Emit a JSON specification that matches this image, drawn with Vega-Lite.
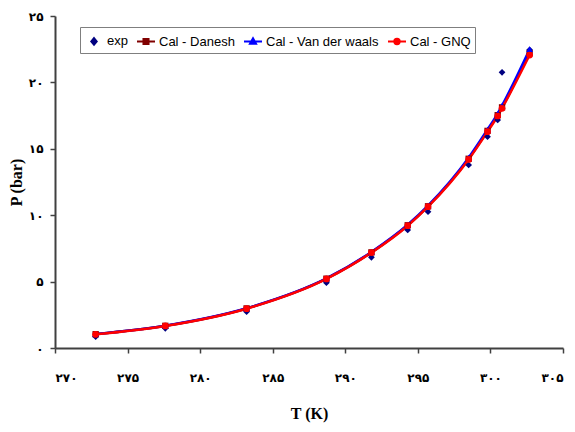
{
  "$schema": "https://vega.github.io/schema/vega-lite/v6.json",
  "width": 508,
  "height": 332,
  "autosize": {"type": "none"},
  "padding": {"left": 55, "top": 16, "right": 12, "bottom": 84},
  "background": "white",
  "config": {
    "view": {"stroke": null},
    "axis": {
      "domainColor": "#404040",
      "domainWidth": 2,
      "tickColor": "#404040",
      "tickWidth": 1.5,
      "tickSize": 5,
      "grid": false,
      "labelFont": "DejaVu Sans",
      "labelFontWeight": "bold",
      "labelFontSize": 12,
      "labelColor": "black",
      "titleFont": "Liberation Serif",
      "titleFontSize": 16,
      "titleFontWeight": "bold",
      "titleColor": "black"
    }
  },
  "data": {
    "values": [
      {"T": 272.8, "P": 0.85, "s": "exp"},
      {"T": 277.6, "P": 1.48, "s": "exp"},
      {"T": 283.2, "P": 2.73, "s": "exp"},
      {"T": 288.7, "P": 4.92, "s": "exp"},
      {"T": 291.8, "P": 6.83, "s": "exp"},
      {"T": 294.3, "P": 8.89, "s": "exp"},
      {"T": 295.7, "P": 10.26, "s": "exp"},
      {"T": 298.5, "P": 13.78, "s": "exp"},
      {"T": 299.8, "P": 15.91, "s": "exp"},
      {"T": 300.5, "P": 17.17, "s": "exp"},
      {"T": 300.8, "P": 20.76, "s": "exp"},
      {"T": 302.7, "P": 22.45, "s": "exp"},
      {"T": 272.8, "P": 1.04, "s": "Cal - Danesh"},
      {"T": 277.6, "P": 1.67, "s": "Cal - Danesh"},
      {"T": 283.2, "P": 2.98, "s": "Cal - Danesh"},
      {"T": 288.7, "P": 5.22, "s": "Cal - Danesh"},
      {"T": 291.8, "P": 7.2, "s": "Cal - Danesh"},
      {"T": 294.3, "P": 9.24, "s": "Cal - Danesh"},
      {"T": 295.7, "P": 10.67, "s": "Cal - Danesh"},
      {"T": 298.5, "P": 14.25, "s": "Cal - Danesh"},
      {"T": 299.8, "P": 16.35, "s": "Cal - Danesh"},
      {"T": 300.5, "P": 17.53, "s": "Cal - Danesh"},
      {"T": 300.8, "P": 18.12, "s": "Cal - Danesh"},
      {"T": 302.7, "P": 22.2, "s": "Cal - Danesh"},
      {"T": 272.8, "P": 1.05, "s": "Cal - Van der waals"},
      {"T": 277.6, "P": 1.68, "s": "Cal - Van der waals"},
      {"T": 283.2, "P": 2.99, "s": "Cal - Van der waals"},
      {"T": 288.7, "P": 5.24, "s": "Cal - Van der waals"},
      {"T": 291.8, "P": 7.23, "s": "Cal - Van der waals"},
      {"T": 294.3, "P": 9.28, "s": "Cal - Van der waals"},
      {"T": 295.7, "P": 10.72, "s": "Cal - Van der waals"},
      {"T": 298.5, "P": 14.33, "s": "Cal - Van der waals"},
      {"T": 299.8, "P": 16.45, "s": "Cal - Van der waals"},
      {"T": 300.5, "P": 17.65, "s": "Cal - Van der waals"},
      {"T": 300.8, "P": 18.25, "s": "Cal - Van der waals"},
      {"T": 302.7, "P": 22.5, "s": "Cal - Van der waals"},
      {"T": 272.8, "P": 1.03, "s": "Cal - GNQ"},
      {"T": 277.6, "P": 1.66, "s": "Cal - GNQ"},
      {"T": 283.2, "P": 2.96, "s": "Cal - GNQ"},
      {"T": 288.7, "P": 5.2, "s": "Cal - GNQ"},
      {"T": 291.8, "P": 7.18, "s": "Cal - GNQ"},
      {"T": 294.3, "P": 9.21, "s": "Cal - GNQ"},
      {"T": 295.7, "P": 10.64, "s": "Cal - GNQ"},
      {"T": 298.5, "P": 14.2, "s": "Cal - GNQ"},
      {"T": 299.8, "P": 16.29, "s": "Cal - GNQ"},
      {"T": 300.5, "P": 17.47, "s": "Cal - GNQ"},
      {"T": 300.8, "P": 18.05, "s": "Cal - GNQ"},
      {"T": 302.7, "P": 22.06, "s": "Cal - GNQ"}
    ]
  },
  "encoding": {
    "x": {
      "field": "T",
      "type": "quantitative",
      "scale": {"domain": [270, 305], "nice": false, "zero": false},
      "axis": {
        "values": [270, 275, 280, 285, 290, 295, 300, 305],
        "title": "T (K)",
        "labelPadding": 19,
        "titlePadding": 22,
        "labelExpr": "replace(replace(replace(replace(replace(replace(replace(replace(replace(replace(datum.label,regexp('0','g'),'۰'),regexp('1','g'),'۱'),regexp('2','g'),'۲'),regexp('3','g'),'۳'),regexp('4','g'),'۴'),regexp('5','g'),'۵'),regexp('6','g'),'۶'),regexp('7','g'),'۷'),regexp('8','g'),'۸'),regexp('9','g'),'۹')"
      }
    },
    "y": {
      "field": "P",
      "type": "quantitative",
      "scale": {"domain": [0, 25], "nice": false},
      "axis": {
        "values": [0, 5, 10, 15, 20, 25],
        "title": "P (bar)",
        "labelPadding": 7,
        "titlePadding": 4,
        "labelExpr": "replace(replace(replace(replace(replace(replace(replace(replace(replace(replace(datum.label,regexp('0','g'),'۰'),regexp('1','g'),'۱'),regexp('2','g'),'۲'),regexp('3','g'),'۳'),regexp('4','g'),'۴'),regexp('5','g'),'۵'),regexp('6','g'),'۶'),regexp('7','g'),'۷'),regexp('8','g'),'۸'),regexp('9','g'),'۹')"
      }
    },
    "color": {
      "field": "s",
      "type": "nominal",
      "sort": ["exp", "Cal - Danesh", "Cal - Van der waals", "Cal - GNQ"],
      "scale": {
        "domain": ["exp", "Cal - Danesh", "Cal - Van der waals", "Cal - GNQ"],
        "range": ["#000080", "#800000", "#0000FF", "#FF0000"]
      },
      "legend": {
        "orient": "none",
        "legendX": 25,
        "legendY": 11,
        "direction": "horizontal",
        "title": null,
        "strokeColor": "#7f7f7f",
        "fillColor": "white",
        "padding": 4,
        "labelFont": "Liberation Sans",
        "labelFontSize": 13,
        "labelColor": "black",
        "symbolSize": 324,
        "columnPadding": 5,
        "labelOffset": 3,
        "symbolStrokeWidth": 2,
        "encode": {
          "symbols": {
            "update": {
              "shape": {"signal": "datum.value === 'exp' ? 'M0,-0.36L0.3,0L0,0.36L-0.3,0Z' : datum.value === 'Cal - Danesh' ? 'M-1,0H1M-0.28,-0.28H0.28V0.28H-0.28Z' : datum.value === 'Cal - Van der waals' ? 'M-1,0H1M0,-0.36L0.34,0.26H-0.34Z' : 'M-1,0H1M0.3,0A0.3,0.3,0,1,1,-0.3,0A0.3,0.3,0,1,1,0.3,0Z'"},
              "fill": {"signal": "scale('color', datum.value)"},
              "stroke": {"signal": "scale('color', datum.value)"},
              "strokeWidth": {"value": 2},
              "opacity": {"value": 1}
            }
          }
        }
      }
    }
  },
  "layer": [
    {
      "transform": [{"filter": "datum.s !== 'exp'"}],
      "mark": {"type": "line", "interpolate": "monotone", "strokeWidth": 2.5}
    },
    {
      "transform": [{"filter": "datum.s === 'exp'"}],
      "mark": {"type": "point", "filled": true, "size": 45, "opacity": 1, "shape": "diamond"}
    },
    {
      "transform": [{"filter": "datum.s === 'Cal - Danesh'"}],
      "mark": {"type": "point", "filled": true, "size": 40, "opacity": 1, "shape": "square"}
    },
    {
      "transform": [{"filter": "datum.s === 'Cal - Van der waals'"}],
      "mark": {"type": "point", "filled": true, "size": 45, "opacity": 1, "shape": "triangle-up"}
    },
    {
      "transform": [{"filter": "datum.s === 'Cal - GNQ'"}],
      "mark": {"type": "point", "filled": true, "size": 45, "opacity": 1, "shape": "circle"}
    }
  ]
}
